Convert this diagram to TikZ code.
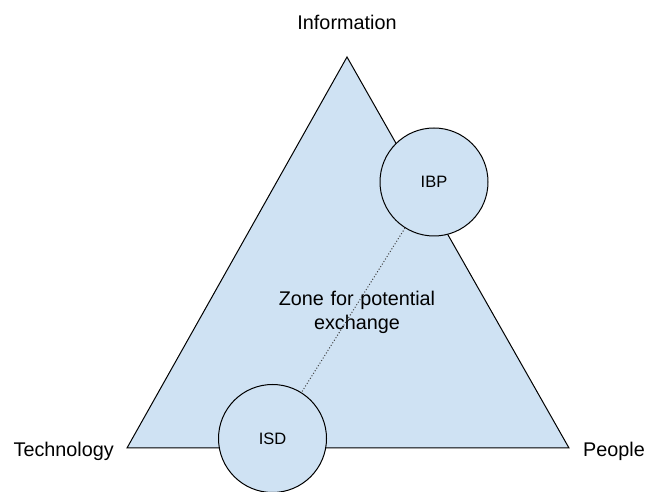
\documentclass[tikz,border=0pt]{standalone}
\usepackage{fontspec}
\setmainfont{Liberation Sans}
\begin{document}
\begin{tikzpicture}[x=1pt,y=1pt,
  lbl/.style={font=\fontsize{19.8}{23}\selectfont, inner sep=0pt},
  circ/.style={circle, draw=black, line width=1pt, fill=fillblue, minimum size=108pt, inner sep=0pt, font=\fontsize{16.5}{19}\selectfont},
  tri/.style={draw=black, line width=1pt, fill=fillblue, line join=miter}]
\definecolor{fillblue}{HTML}{CFE2F3}
\useasboundingbox (0,0) rectangle (648,492);
\coordinate (apex) at (347,435);
\coordinate (bl) at (127,44);
\coordinate (br) at (569,44);
\draw[tri] (apex) -- (br) -- (bl) -- cycle;
\node[lbl] (info) at (347,470) {Information};
\node[lbl, anchor=east] (tech) at (114,41) {Technology};
\node[lbl, anchor=west] (people) at (583,41) {People};
\node[lbl, align=center, text width=170pt] (zone) at (357,180) {Zone for potential\\[1pt]exchange};
\node[circ] (ibp) at (434,310) {IBP};
\node[circ] (isd) at (272.5,53.5) {ISD};
\draw[dotted, line width=1pt, black!75] (ibp) -- (isd);
\end{tikzpicture}
\end{document}
